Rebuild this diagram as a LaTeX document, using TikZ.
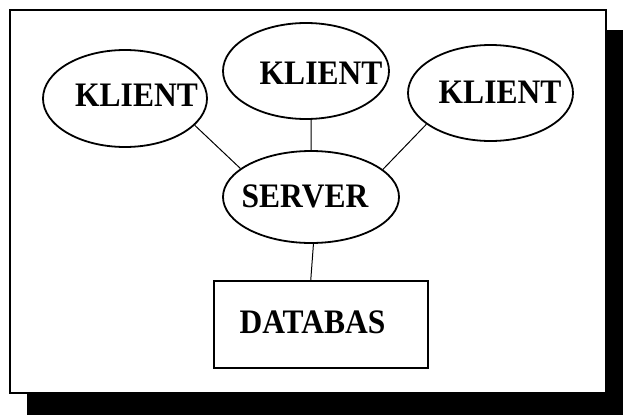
\documentclass[tikz,border=0pt]{standalone}
\usepackage{fontspec}
\setmainfont{Liberation Serif}
\usetikzlibrary{shapes.geometric}
\newcommand{\tallword}[1]{\scalebox{1}[1.09]{#1}}
\begin{document}
\begin{tikzpicture}[x=1pt,y=-1pt,
  bubble/.style={draw=black,ellipse,line width=1.8pt,inner sep=0pt,fill=white},
  dbbox/.style={draw=black,rectangle,line width=1.8pt,inner sep=0pt,fill=white},
  caption/.style={anchor=base,inner sep=0pt,font=\fontsize{31.5}{36}\selectfont\bfseries},
  link/.style={draw=black,line width=1pt}]
\useasboundingbox (0,0) rectangle (623,415);
% drop shadow and frame
\fill[black] (27,30) rectangle (623,415);
\draw[line width=1.8pt,fill=white] (10,10) rectangle (606,393);
% clients, server and database
\node[bubble,minimum width=164pt,minimum height=97pt] (k1) at (125,98.5) {};
\node[bubble,minimum width=166pt,minimum height=96pt] (k2) at (306,71) {};
\node[bubble,minimum width=165pt,minimum height=96pt] (k3) at (490.5,93) {};
\node[bubble,minimum width=176pt,minimum height=92pt] (srv) at (311,197) {};
\node[dbbox,minimum width=214pt,minimum height=87pt] (db) at (321,324.5) {};
% labels
\node[caption] (k1t) at (136.5,106.5) {\tallword{KLIENT}};
\node[caption] (k2t) at (321,84) {\tallword{KLIENT}};
\node[caption] (k3t) at (500,103) {\tallword{KLIENT}};
\node[caption] (srvt) at (305,207) {\tallword{SERVER}};
\node[caption] (dbt) at (312.5,333) {\tallword{DATABAS}};
% connections
\draw[link] (k1.-21.5) -- (srv.158);
\draw[link] (k2.-84.5) -- (srv.north);
\draw[link] (k3.-154.3) -- (srv.21);
\draw[link] (srv.-87.4) -- (db.103);
\end{tikzpicture}
\end{document}
